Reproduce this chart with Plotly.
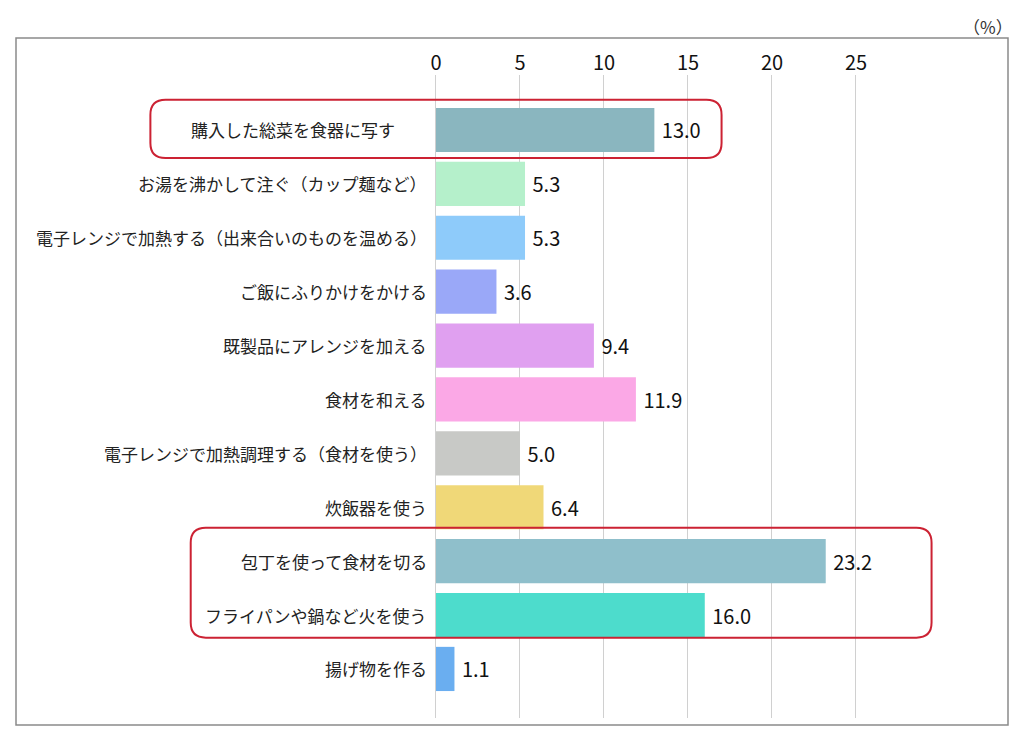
import plotly.graph_objects as go

categories = [
    "購入した総菜を食器に写す",
    "お湯を沸かして注ぐ（カップ麺など）",
    "電子レンジで加熱する（出来合いのものを温める）",
    "ご飯にふりかけをかける",
    "既製品にアレンジを加える",
    "食材を和える",
    "電子レンジで加熱調理する（食材を使う）",
    "炊飯器を使う",
    "包丁を使って食材を切る",
    "フライパンや鍋など火を使う",
    "揚げ物を作る",
]
values = [13.0, 5.3, 5.3, 3.6, 9.4, 11.9, 5.0, 6.4, 23.2, 16.0, 1.1]
colors = ["#8ab6bf", "#b5f0cb", "#8ecbfa", "#9aa8f8", "#e0a0f0", "#fba8e6",
          "#c8c9c6", "#f0d878", "#8fbfcb", "#4ddccc", "#6aaef0"]
x_ticks = [0, 5, 10, 15, 20, 25]

FONT = "Noto Sans CJK JP"
ypos = list(range(len(categories)))

# highlight boxes (x extent in data units, y extent in row units)
box1 = (-17.0, 17.0, -0.56, 0.52)
box2 = (-14.6, 29.5, 7.38, 9.42)

fig = go.Figure()
fig.add_trace(go.Bar(
    x=values, y=ypos, orientation="h",
    marker=dict(color=colors, line=dict(width=0)),
    width=0.82,
    text=[f" {v:.1f}" for v in values],
    textposition="outside",
    textfont=dict(family=FONT, size=20, color="#111"),
    cliponaxis=False,
    hoverinfo="skip",
))

annotations = []
for i, c in enumerate(categories):
    if i == 0:
        ann = dict(x=box1[0] / 2, xanchor="center", xshift=0)
    else:
        ann = dict(x=0, xanchor="right", xshift=-7)
    ann.update(dict(
        y=i, xref="x", yref="y", text=c, showarrow=False, yanchor="middle",
        font=dict(family=FONT, size=17, color="#222"),
    ))
    annotations.append(ann)
annotations.append(dict(
    x=0.98, y=1.075, xref="paper", yref="paper", text="（%）", showarrow=False,
    xanchor="center", yanchor="middle",
    font=dict(family=FONT, size=17, color="#333"),
))


def rounded_rect(x0, x1, y0, y1, rx=0.9, ry=0.28):
    return (f"M {x0+rx},{y0} L {x1-rx},{y0} Q {x1},{y0} {x1},{y0+ry} "
            f"L {x1},{y1-ry} Q {x1},{y1} {x1-rx},{y1} "
            f"L {x0+rx},{y1} Q {x0},{y1} {x0},{y1-ry} "
            f"L {x0},{y0+ry} Q {x0},{y0} {x0+rx},{y0} Z")


shapes = [
    dict(type="rect", xref="paper", yref="paper", x0=0, x1=1, y0=-0.011, y1=1.0575,
         line=dict(color="#8a8a8a", width=1.5), fillcolor="rgba(0,0,0,0)", layer="below"),
    dict(type="path", xref="x", yref="y", path=rounded_rect(*box1),
         line=dict(color="#cc2233", width=2), layer="above"),
    dict(type="path", xref="x", yref="y", path=rounded_rect(*box2),
         line=dict(color="#cc2233", width=2), layer="above"),
]

fig.update_layout(
    width=1024, height=750,
    margin=dict(l=8, r=24, t=67, b=40),
    paper_bgcolor="white", plot_bgcolor="white",
    showlegend=False,
    xaxis=dict(
        range=[-25.0, 34.05], side="top",
        tickvals=x_ticks, ticktext=[str(t) for t in x_ticks],
        showgrid=True, gridcolor="#d0d0d0", gridwidth=1,
        zeroline=False, showline=False, ticks="",
        tickfont=dict(family=FONT, size=20, color="#111"),
        fixedrange=True,
    ),
    yaxis=dict(
        range=[10.91, -1.02], showticklabels=False, showgrid=False,
        zeroline=False, showline=False, ticks="", fixedrange=True,
    ),
    annotations=annotations,
    shapes=shapes,
)

fig.write_html("out.html")
